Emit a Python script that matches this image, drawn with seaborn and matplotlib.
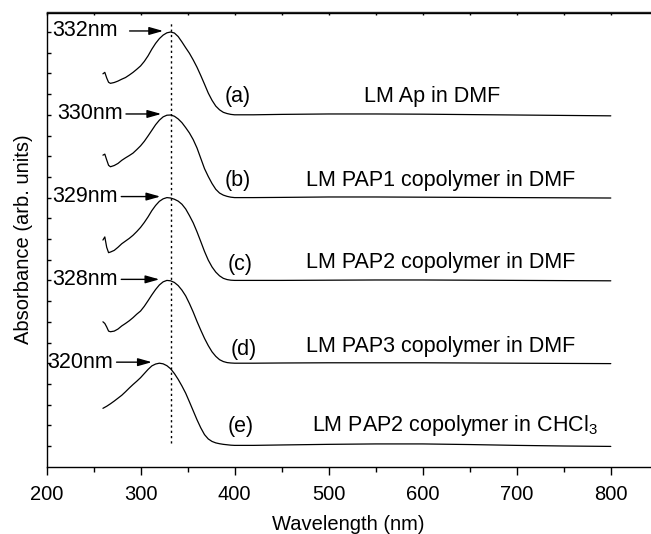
import matplotlib
matplotlib.use("Agg")
import matplotlib.pyplot as plt
import seaborn as sns
import pandas as pd

# wavelength grid (nm) shared by all spectra
wavelength = [260, 262, 264, 266, 268, 272, 276, 280, 284, 288, 292, 296, 300,
              304, 308, 312, 316, 320, 324, 328, 332, 336, 340, 344, 348, 352,
              356, 360, 364, 368, 372, 376, 380, 384, 388, 392, 396, 400, 420,
              450, 500, 550, 600, 650, 700, 750, 800]

# absorbance, stacked with arbitrary offsets
abs_a = [18.98, 19.05, 18.78, 18.57, 18.52, 18.56, 18.63, 18.72, 18.80, 18.92,
         19.05, 19.20, 19.36, 19.58, 19.85, 20.17, 20.45, 20.68, 20.85, 20.96,
         21.00, 20.95, 20.78, 20.52, 20.24, 19.97, 19.65, 19.30, 18.90, 18.48,
         18.05, 17.70, 17.42, 17.24, 17.12, 17.06, 17.02, 17.00, 17.00, 17.02,
         17.04, 17.04, 17.03, 17.01, 16.99, 16.97, 16.95]
abs_b = [15.05, 15.10, 14.82, 14.56, 14.49, 14.55, 14.65, 14.80, 14.92, 15.03,
         15.15, 15.32, 15.50, 15.72, 15.98, 16.25, 16.52, 16.74, 16.90, 16.98,
         16.99, 16.93, 16.80, 16.62, 16.38, 16.12, 15.80, 15.40, 14.90, 14.40,
         14.02, 13.68, 13.40, 13.22, 13.12, 13.06, 13.02, 13.00, 13.00, 13.01,
         13.03, 13.03, 13.02, 13.01, 13.00, 12.99, 12.98]
abs_c = [10.95, 11.10, 10.60, 10.34, 10.37, 10.45, 10.60, 10.77, 10.90, 11.03,
         11.18, 11.36, 11.56, 11.80, 12.07, 12.37, 12.62, 12.82, 12.94, 13.00,
         12.98, 12.92, 12.83, 12.68, 12.45, 12.13, 11.78, 11.35, 10.88, 10.40,
         9.98, 9.65, 9.40, 9.22, 9.10, 9.04, 9.01, 9.00, 9.00, 9.00,
         9.01, 9.02, 9.02, 9.01, 9.00, 8.99, 8.98]
abs_d = [7.00, 6.92, 6.75, 6.55, 6.52, 6.55, 6.65, 6.80, 6.92, 7.05,
         7.20, 7.37, 7.52, 7.75, 8.02, 8.30, 8.56, 8.78, 8.93, 9.00,
         8.98, 8.90, 8.75, 8.53, 8.25, 7.88, 7.47, 7.02, 6.60, 6.20,
         5.85, 5.55, 5.33, 5.17, 5.08, 5.03, 5.01, 5.00, 5.00, 5.01,
         5.02, 5.02, 5.02, 5.01, 5.00, 4.99, 4.98]
abs_e = [2.82, 2.87, 2.92, 2.98, 3.04, 3.17, 3.31, 3.45, 3.62, 3.80,
         3.97, 4.13, 4.30, 4.50, 4.70, 4.87, 4.96, 5.00, 4.97, 4.88,
         4.73, 4.50, 4.22, 3.90, 3.55, 3.13, 2.70, 2.27, 1.88, 1.55,
         1.34, 1.22, 1.15, 1.11, 1.08, 1.06, 1.04, 1.03, 1.03, 1.05,
         1.08, 1.10, 1.10, 1.07, 1.03, 1.00, 0.98]

spectra = [abs_a, abs_b, abs_c, abs_d, abs_e]
peak_nm = [332, 330, 329, 328, 320]
peak_labels = ["332nm", "330nm", "329nm", "328nm", "320nm"]
tags = ["(a)", "(b)", "(c)", "(d)", "(e)"]
samples = ["LM Ap in DMF",
           "LM PAP1 copolymer in DMF",
           "LM PAP2 copolymer in DMF",
           "LM PAP3 copolymer in DMF",
           "LM PAP2 copolymer in CHCl$_{\\mathrm{3}}$"]
baselines = [17, 13, 9, 5, 1]

# layout of the annotations (nm / offsets above each baseline)
peak_text_x = [276, 281, 276, 276, 271]
arrow_gap = [6, 0, 0, 0, 0]
tag_x = [403, 403, 406, 410, 406]
tag_dy = [0.87, 0.85, 0.78, 0.65, 0.93]
name_x = [538, 476, 476, 476, 482]
name_dy = [0.9, 0.84, 0.88, 0.8, 0.98]

sns.set_theme(style="ticks")
plt.rcParams["font.family"] = ["Liberation Sans", "DejaVu Sans"]
plt.rcParams["mathtext.fontset"] = "custom"
plt.rcParams["mathtext.rm"] = "Liberation Sans"
plt.rcParams["mathtext.it"] = "Liberation Sans:italic"
plt.rcParams["text.color"] = "black"
plt.rcParams["axes.labelcolor"] = "black"
plt.rcParams["xtick.color"] = "black"
plt.rcParams["ytick.color"] = "black"

fig = plt.figure(figsize=(6.51, 5.34), dpi=100)
ax = fig.add_axes([46.5 / 651, 67.3 / 534, 604.5 / 651, 454.2 / 534])

df = pd.DataFrame({"wavelength": wavelength * len(spectra),
                   "absorbance": sum(spectra, []),
                   "sample": [t for t in tags for _ in wavelength]})
sns.lineplot(data=df, x="wavelength", y="absorbance", units="sample",
             estimator=None, color="black", linewidth=0.9, ax=ax)

# dotted guide through the LM Ap maximum
ax.vlines(peak_nm[0], 1.15, 21.5, colors="black", linewidth=1.0,
          linestyles=(0, (1.6, 2.2)))

for i, vals in enumerate(spectra):
    top = max(vals)
    ax.annotate(peak_labels[i], xy=(peak_nm[i] - 8, top + 0.05),
                xytext=(peak_text_x[i], top + 0.05),
                ha="right", va="center", fontsize=15.5,
                arrowprops=dict(arrowstyle="-|>,head_length=0.6,head_width=0.17",
                                color="black", lw=1.0, shrinkA=arrow_gap[i],
                                shrinkB=0, mutation_scale=14))
    ax.text(tag_x[i], baselines[i] + tag_dy[i], tags[i], ha="center",
            va="center", fontsize=15.5)
    ax.text(name_x[i], baselines[i] + name_dy[i], samples[i], ha="left",
            va="center", fontsize=15.5)

ax.set_xlim(200, 200 + 604.5 / 0.9405)
ax.set_ylim(0, 454.2 / 20.7)
ax.set_xticks([200, 300, 400, 500, 600, 700, 800])
ax.set_xticks([250, 350, 450, 550, 650, 750], minor=True)
ax.set_yticks(range(1, 22))
ax.set_yticklabels([])
ax.tick_params(axis="x", which="major", direction="out", length=6, width=1,
               labelsize=14.5, pad=7)
ax.tick_params(axis="x", which="minor", direction="out", length=3.5, width=1)
ax.tick_params(axis="y", direction="in", length=3, width=1, left=True)

top_ax = ax.secondary_xaxis("top")
top_ax.set_xticks([200, 250, 300, 350, 400, 450, 500, 550, 600, 650, 700, 750, 800])
top_ax.tick_params(direction="in", length=2.5, width=1, labeltop=False)
top_ax.spines["top"].set_linewidth(1.0)

for side in ["left", "bottom", "top"]:
    ax.spines[side].set_linewidth(1.0)
    ax.spines[side].set_color("black")
ax.spines["right"].set_visible(False)

ax.set_xlabel("Wavelength (nm)", fontsize=14.5, labelpad=8)
ax.set_ylabel("Absorbance (arb. units)", fontsize=14.5)
ax.yaxis.set_label_coords(-0.022, 0.5)

fig.savefig("out.png", dpi=100)
